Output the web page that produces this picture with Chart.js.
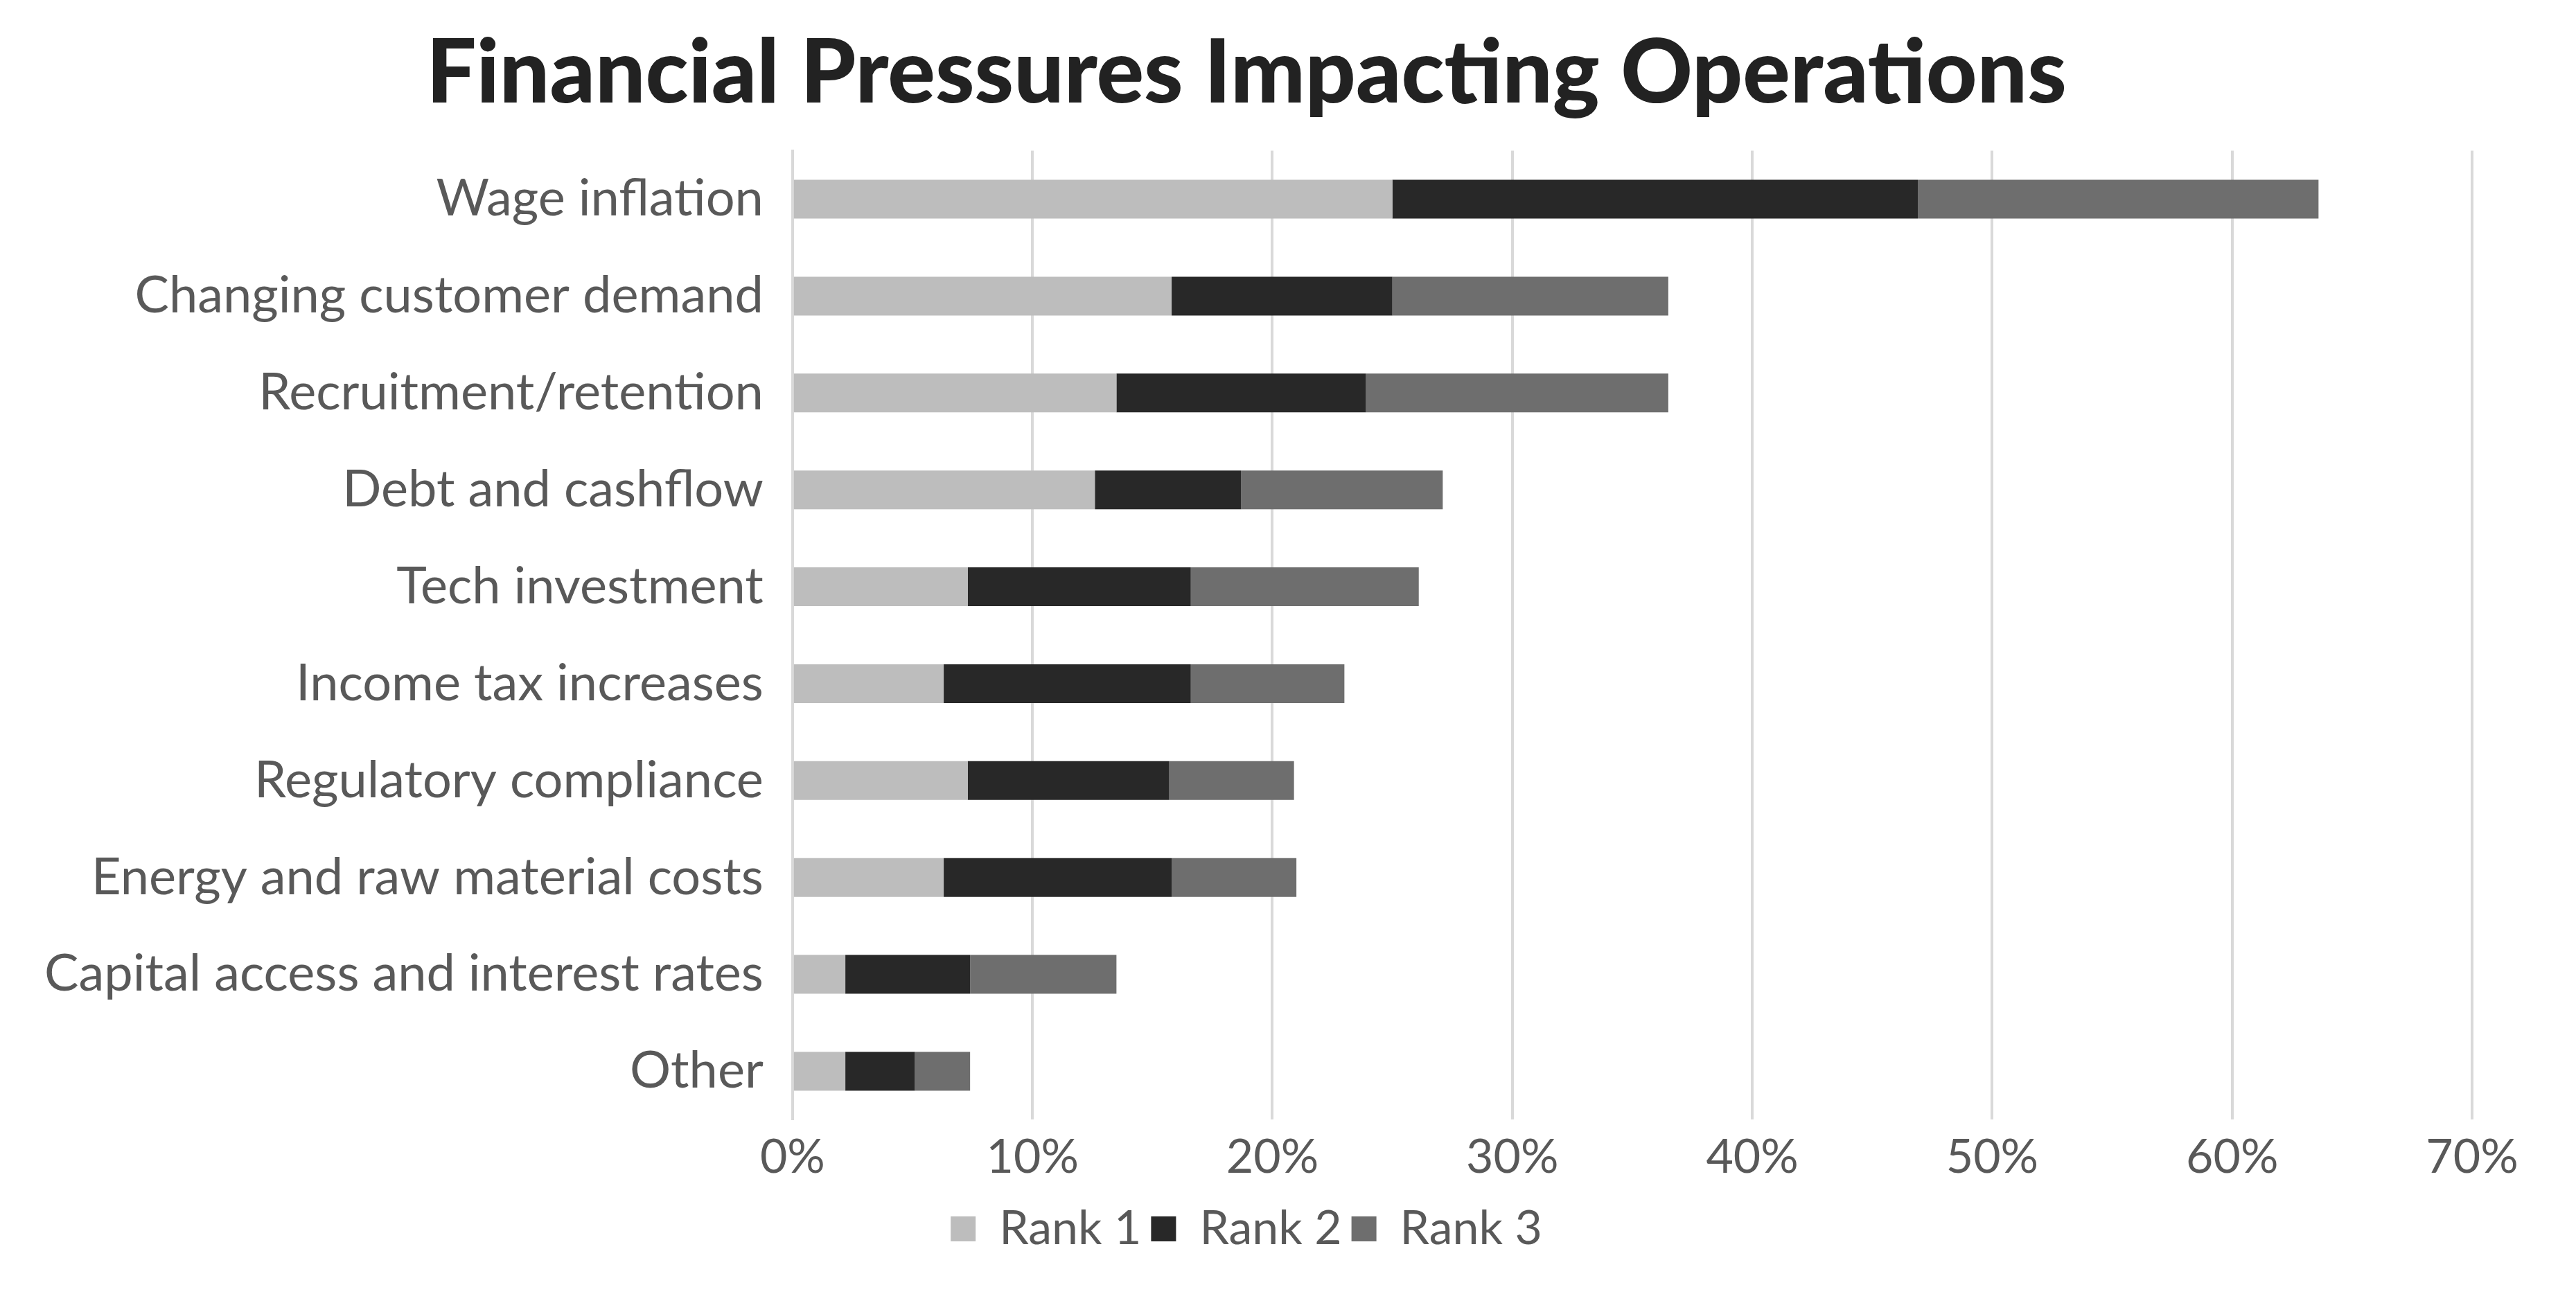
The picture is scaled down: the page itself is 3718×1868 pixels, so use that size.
<!DOCTYPE html>
<html>
<head>
<meta charset="utf-8">
<script src="https://cdn.jsdelivr.net/npm/chart.js@4"></script>
<style>
  html, body { margin: 0; padding: 0; background: #fff; }
  #wrap { width: 3718px; height: 1868px; }
</style>
</head>
<body>
<div id="wrap"><canvas id="chart"></canvas></div>
<script>
// categories and values (percent)
const categories = [
  "Wage inflation", "Changing customer demand", "Recruitment/retention",
  "Debt and cashflow", "Tech investment", "Income tax increases",
  "Regulatory compliance", "Energy and raw material costs",
  "Capital access and interest rates", "Other"
];
const rank1 = [25.0, 15.8, 13.5, 12.6, 7.3, 6.3, 7.3, 6.3, 2.2, 2.2];
const rank2 = [21.9, 9.2, 10.4, 6.1, 9.3, 10.3, 8.4, 9.5, 5.2, 2.9];
const rank3 = [16.7, 11.5, 12.6, 8.4, 9.5, 6.4, 5.2, 5.2, 6.1, 2.3];
const seriesNames = ["Rank 1", "Rank 2", "Rank 3"];
const seriesColors = ["#bdbdbd", "#282828", "#6e6e6e"];

const font = "Lato, 'Open Sans', sans-serif";
const ctx = document.getElementById('chart').getContext('2d');

new Chart(ctx, {
    type: 'bar',
    data: {
        labels: categories,
        datasets: [rank1, rank2, rank3].map((d, i) => ({
            label: seriesNames[i],
            data: d,
            backgroundColor: seriesColors[i],
            borderWidth: 0,
            categoryPercentage: 1.0,
            barPercentage: 0.4
        }))
    },
    options: {
        indexAxis: 'y',
        responsive: true,
        maintainAspectRatio: false,
        animation: false,
        devicePixelRatio: 1,
        layout: { padding: { left: 30, right: 150, top: 0, bottom: 50 } },
        scales: {
            x: {
                stacked: true,
                min: 0, max: 70,
                ticks: {
                    stepSize: 10,
                    callback: v => v + '%',
                    color: '#595959',
                    font: { family: font, size: 68 },
                    padding: 14
                },
                grid: { color: '#d9d9d9', lineWidth: 4, drawTicks: false },
                border: { display: false }
            },
            y: {
                stacked: true,
                ticks: {
                    color: '#595959',
                    font: { family: font, size: 74 },
                    padding: 34
                },
                grid: { display: false },
                border: { color: '#d9d9d9', width: 4 }
            }
        },
        plugins: {
            title: {
                display: true,
                text: 'Financial Pressures Impacting Operations',
                color: '#222',
                font: { family: font, size: 128, weight: '900' },
                padding: { top: 30, bottom: 34 }
            },
            legend: {
                position: 'bottom',
                labels: {
                    color: '#595959',
                    font: { family: font, size: 68 },
                    boxWidth: 36, boxHeight: 36,
                    padding: 14
                }
            },
            tooltip: { enabled: false }
        }
    }
});
</script>
</body>
</html>
